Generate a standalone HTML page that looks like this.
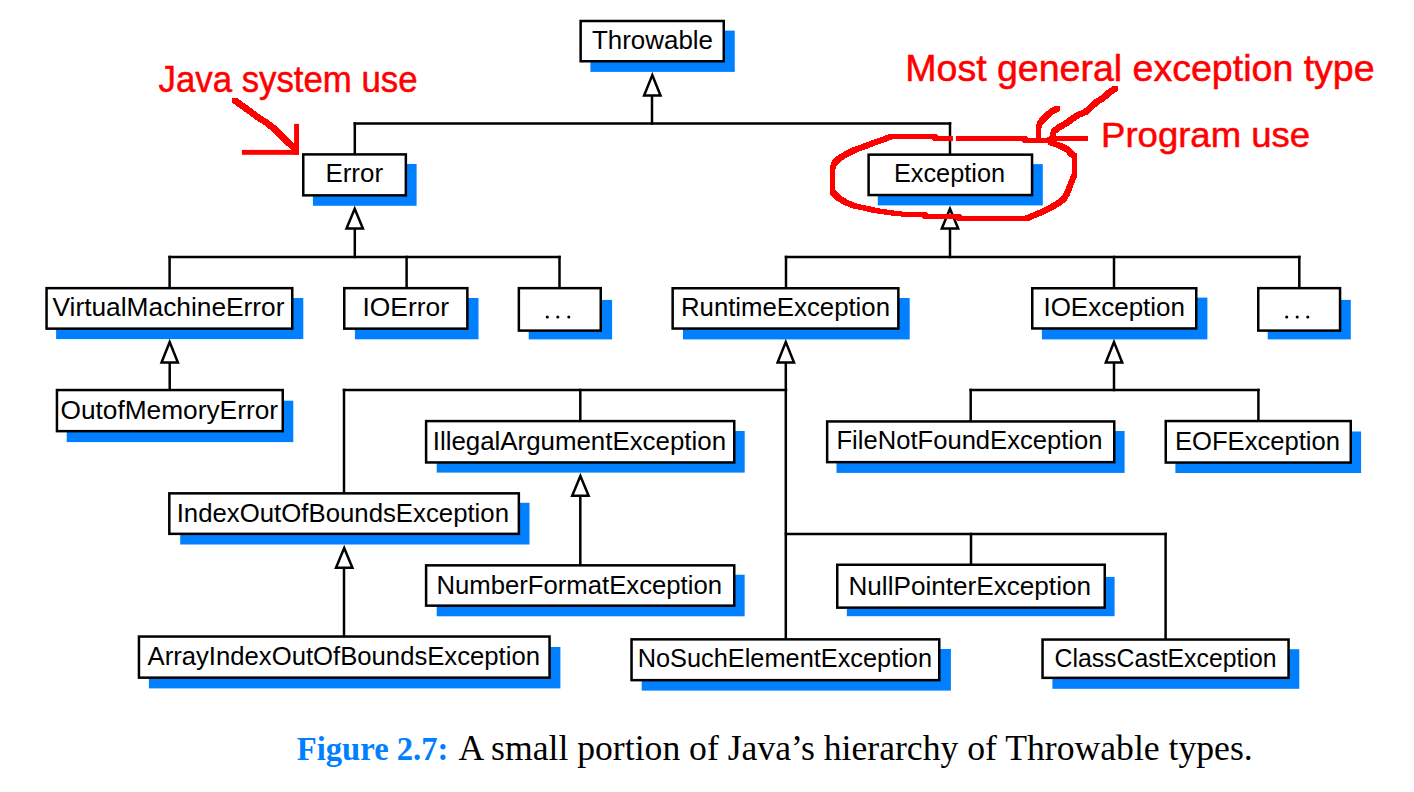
<!DOCTYPE html><html><head><meta charset="utf-8"><style>html,body{margin:0;padding:0;background:#fff;width:1414px;height:792px;overflow:hidden}svg{display:block}</style></head><body>
<svg width="1414" height="792" viewBox="0 0 1414 792">
<rect x="590.40" y="30.60" width="144.35" height="41.30" fill="#0080ff"/>
<rect x="312.90" y="164.00" width="103.70" height="41.80" fill="#0080ff"/>
<rect x="877.80" y="164.10" width="165.00" height="41.30" fill="#0080ff"/>
<rect x="56.10" y="298.00" width="247.20" height="41.10" fill="#0080ff"/>
<rect x="354.90" y="298.00" width="123.60" height="41.30" fill="#0080ff"/>
<rect x="528.70" y="299.90" width="83.40" height="39.50" fill="#0080ff"/>
<rect x="683.00" y="298.00" width="226.70" height="41.40" fill="#0080ff"/>
<rect x="1041.90" y="297.60" width="165.50" height="41.80" fill="#0080ff"/>
<rect x="1267.70" y="299.90" width="83.10" height="39.50" fill="#0080ff"/>
<rect x="66.70" y="400.70" width="226.60" height="41.40" fill="#0080ff"/>
<rect x="436.70" y="431.00" width="308.00" height="41.60" fill="#0080ff"/>
<rect x="836.50" y="431.00" width="288.10" height="41.90" fill="#0080ff"/>
<rect x="1175.40" y="431.50" width="185.70" height="41.50" fill="#0080ff"/>
<rect x="180.20" y="502.80" width="349.30" height="41.70" fill="#0080ff"/>
<rect x="436.70" y="574.75" width="307.95" height="41.55" fill="#0080ff"/>
<rect x="846.85" y="576.90" width="267.75" height="39.30" fill="#0080ff"/>
<rect x="148.90" y="647.00" width="411.50" height="41.40" fill="#0080ff"/>
<rect x="641.70" y="649.00" width="309.20" height="41.60" fill="#0080ff"/>
<rect x="1052.40" y="649.20" width="246.90" height="39.60" fill="#0080ff"/>
<g stroke="#000" stroke-width="2.5" fill="none" stroke-linecap="square">
<line x1="652" y1="96" x2="652" y2="123.5"/>
<line x1="354.8" y1="123.5" x2="950" y2="123.5"/>
<line x1="354.8" y1="123.5" x2="354.8" y2="153.2"/>
<line x1="950" y1="123.5" x2="950" y2="154"/>
<line x1="354.8" y1="229" x2="354.8" y2="257"/>
<line x1="950" y1="229" x2="950" y2="257"/>
<line x1="169.6" y1="257" x2="559.5" y2="257"/>
<line x1="169.6" y1="257" x2="169.6" y2="287"/>
<line x1="406.6" y1="257" x2="406.6" y2="287"/>
<line x1="559.5" y1="257" x2="559.5" y2="287"/>
<line x1="786" y1="257" x2="1299.3" y2="257"/>
<line x1="786" y1="257" x2="786" y2="287"/>
<line x1="1114" y1="257" x2="1114" y2="287"/>
<line x1="1299.3" y1="257" x2="1299.3" y2="287"/>
<line x1="169.7" y1="362.5" x2="169.7" y2="389"/>
<line x1="785.8" y1="362.5" x2="785.8" y2="638.5"/>
<line x1="1114" y1="362.5" x2="1114" y2="390"/>
<line x1="344" y1="390" x2="786" y2="390"/>
<line x1="344" y1="390" x2="344" y2="492.5"/>
<line x1="580.3" y1="390" x2="580.3" y2="420"/>
<line x1="970.7" y1="390" x2="1258.4" y2="390"/>
<line x1="970.7" y1="390" x2="970.7" y2="420"/>
<line x1="1258.4" y1="390" x2="1258.4" y2="420"/>
<line x1="786" y1="534" x2="1165.6" y2="534"/>
<line x1="971" y1="534" x2="971" y2="564"/>
<line x1="1165.6" y1="534" x2="1165.6" y2="638.5"/>
<line x1="580.3" y1="496" x2="580.3" y2="564"/>
<line x1="344" y1="567.5" x2="344" y2="635.5"/>
</g>
<g stroke="#000" stroke-width="2.5" fill="#fff">
<rect x="580.65" y="21.00" width="143.10" height="40.25"/>
<rect x="303.25" y="154.40" width="102.60" height="40.95"/>
<rect x="868.60" y="154.65" width="163.45" height="40.40"/>
<rect x="46.55" y="288.15" width="245.70" height="40.50"/>
<rect x="344.25" y="288.15" width="123.10" height="40.50"/>
<rect x="518.85" y="288.15" width="81.90" height="42.45"/>
<rect x="672.65" y="288.25" width="225.70" height="40.30"/>
<rect x="1032.25" y="288.25" width="164.00" height="40.20"/>
<rect x="1258.25" y="288.15" width="81.80" height="42.45"/>
<rect x="56.95" y="390.05" width="225.80" height="41.10"/>
<rect x="426.10" y="421.10" width="308.15" height="41.35"/>
<rect x="827.15" y="421.45" width="287.10" height="40.70"/>
<rect x="1165.75" y="421.05" width="185.00" height="41.50"/>
<rect x="169.31" y="493.35" width="349.54" height="40.50"/>
<rect x="426.10" y="565.35" width="308.15" height="40.30"/>
<rect x="837.25" y="564.75" width="267.50" height="42.90"/>
<rect x="138.95" y="636.55" width="410.60" height="41.10"/>
<rect x="631.55" y="639.35" width="307.70" height="40.80"/>
<rect x="1042.55" y="639.55" width="246.00" height="38.30"/>
</g>
<g stroke="#000" stroke-width="2.5" fill="#fff" stroke-linejoin="miter">
<polygon points="652.3,75.1 644.10,95.55 660.50,95.55"/>
<polygon points="354.7,208.8 346.50,228.4 362.90,228.4"/>
<polygon points="950,208.8 941.80,228.4 958.20,228.4"/>
<polygon points="169.7,342 161.50,362.45 177.90,362.45"/>
<polygon points="785.8,342 777.60,362.45 794.00,362.45"/>
<polygon points="1114,342 1105.80,362.45 1122.20,362.45"/>
<polygon points="580.4,475.9 572.20,495.65 588.60,495.65"/>
<polygon points="344.2,547.9 336.00,567.65 352.40,567.65"/>
</g>
<g font-family="Liberation Sans, sans-serif" font-size="26.6" fill="#000">
<text x="591.98" y="48.75" textLength="121.03" lengthAdjust="spacingAndGlyphs">Throwable</text>
<text x="325.43" y="182.4" textLength="57.60" lengthAdjust="spacingAndGlyphs">Error</text>
<text x="893.93" y="182.4" textLength="111.13" lengthAdjust="spacingAndGlyphs">Exception</text>
<text x="52.50" y="316" textLength="232.01" lengthAdjust="spacingAndGlyphs">VirtualMachineError</text>
<text x="362.41" y="316" textLength="86.61" lengthAdjust="spacingAndGlyphs">IOError</text>
<text x="680.96" y="315.8" textLength="209.06" lengthAdjust="spacingAndGlyphs">RuntimeException</text>
<text x="1043.42" y="316" textLength="141.64" lengthAdjust="spacingAndGlyphs">IOException</text>
<text x="60.49" y="418.6" textLength="217.52" lengthAdjust="spacingAndGlyphs">OutofMemoryError</text>
<text x="432.72" y="449.8" textLength="293.30" lengthAdjust="spacingAndGlyphs">IllegalArgumentException</text>
<text x="836.48" y="449.3" textLength="266.04" lengthAdjust="spacingAndGlyphs">FileNotFoundException</text>
<text x="1174.95" y="449.8" textLength="165.09" lengthAdjust="spacingAndGlyphs">EOFException</text>
<text x="176.71" y="521.65" textLength="332.30" lengthAdjust="spacingAndGlyphs">IndexOutOfBoundsException</text>
<text x="436.47" y="594" textLength="285.56" lengthAdjust="spacingAndGlyphs">NumberFormatException</text>
<text x="848.46" y="595.2" textLength="242.56" lengthAdjust="spacingAndGlyphs">NullPointerException</text>
<text x="147.50" y="664.6" textLength="392.51" lengthAdjust="spacingAndGlyphs">ArrayIndexOutOfBoundsException</text>
<text x="637.72" y="666.6" textLength="294.30" lengthAdjust="spacingAndGlyphs">NoSuchElementException</text>
<text x="1054.48" y="667" textLength="222.03" lengthAdjust="spacingAndGlyphs">ClassCastException</text>
</g>
<circle cx="547.3" cy="317" r="1.55" fill="#000"/>
<circle cx="557.8" cy="317" r="1.55" fill="#000"/>
<circle cx="568.8" cy="317" r="1.55" fill="#000"/>
<circle cx="1286.7" cy="317" r="1.55" fill="#000"/>
<circle cx="1297.2" cy="317" r="1.55" fill="#000"/>
<circle cx="1307.8" cy="317" r="1.55" fill="#000"/>
<path fill="#ff0000" shape-rendering="crispEdges" d="M232.20,98.00 L237.00,98.00 L245.00,103.70 L245.00,108.50 L240.20,108.50 L232.20,102.80ZM240.20,103.70 L245.00,103.70 L253.00,109.40 L253.00,114.20 L248.20,114.20 L240.20,108.50ZM248.20,109.40 L253.00,109.40 L260.30,115.00 L260.30,119.80 L255.50,119.80 L248.20,114.20ZM255.50,115.00 L260.30,115.00 L268.40,119.90 L268.40,124.70 L263.60,124.70 L255.50,119.80ZM263.60,119.90 L268.40,119.90 L275.70,125.60 L275.70,130.40 L270.90,130.40 L263.60,124.70ZM270.90,125.60 L275.70,125.60 L282.10,132.00 L282.10,136.80 L277.30,136.80 L270.90,130.40ZM277.30,132.00 L282.10,132.00 L288.60,138.50 L288.60,143.30 L283.80,143.30 L277.30,136.80ZM283.80,138.50 L288.60,138.50 L294.30,143.30 L294.30,148.10 L289.50,148.10 L283.80,143.30ZM289.50,143.30 L294.30,143.30 L297.90,147.10 L297.90,151.90 L293.10,151.90 L289.50,148.10ZM1049.60,136.10 L1088.00,136.10 L1088.00,140.90 L1049.60,140.90ZM1046.60,137.85 L1049.60,136.10 L1054.40,136.10 L1054.40,140.90 L1051.40,142.65 L1046.60,142.65ZM1023.60,137.85 L1051.40,137.85 L1051.40,142.65 L1023.60,142.65ZM1021.60,136.10 L1026.40,136.10 L1028.40,137.85 L1028.40,142.65 L1023.60,142.65 L1021.60,140.90ZM943.90,136.00 L948.70,136.00 L1026.40,136.10 L1026.40,140.90 L1021.60,140.90 L943.90,140.80ZM933.10,135.80 L937.90,135.80 L948.70,136.00 L948.70,140.80 L943.90,140.80 L933.10,140.60ZM931.20,134.00 L936.00,134.00 L937.90,135.80 L937.90,140.60 L933.10,140.60 L931.20,138.80ZM889.10,134.00 L936.00,134.00 L936.00,138.80 L889.10,138.80ZM880.60,137.30 L889.10,134.00 L893.90,134.00 L893.90,138.80 L885.40,142.10 L880.60,142.10ZM872.10,140.10 L880.60,137.30 L885.40,137.30 L885.40,142.10 L876.90,144.90 L872.10,144.90ZM862.20,144.00 L872.10,140.10 L876.90,140.10 L876.90,144.90 L867.00,148.80 L862.20,148.80ZM852.30,147.50 L862.20,144.00 L867.00,144.00 L867.00,148.80 L857.10,152.30 L852.30,152.30ZM843.80,151.80 L852.30,147.50 L857.10,147.50 L857.10,152.30 L848.60,156.60 L843.80,156.60ZM836.70,156.00 L843.80,151.80 L848.60,151.80 L848.60,156.60 L841.50,160.80 L836.70,160.80ZM831.80,161.00 L836.70,156.00 L841.50,156.00 L841.50,160.80 L836.60,165.80 L831.80,165.80ZM830.00,165.90 L831.80,161.00 L836.60,161.00 L836.60,165.80 L834.80,170.70 L830.00,170.70ZM830.00,165.90 L834.80,165.90 L834.80,194.40 L830.00,194.40ZM830.00,189.60 L834.80,189.60 L837.30,191.70 L837.30,196.50 L832.50,196.50 L830.00,194.40ZM832.50,191.70 L837.30,191.70 L841.50,196.00 L841.50,200.80 L836.70,200.80 L832.50,196.50ZM836.70,196.00 L841.50,196.00 L848.60,200.20 L848.60,205.00 L843.80,205.00 L836.70,200.80ZM843.80,200.20 L848.60,200.20 L857.80,203.80 L857.80,208.60 L853.00,208.60 L843.80,205.00ZM853.00,203.80 L857.80,203.80 L868.40,205.90 L868.40,210.70 L863.60,210.70 L853.00,208.60ZM863.60,205.90 L868.40,205.90 L876.90,208.00 L876.90,212.80 L872.10,212.80 L863.60,210.70ZM872.10,208.00 L876.90,208.00 L891.00,210.10 L891.00,214.90 L886.20,214.90 L872.10,212.80ZM886.20,210.10 L891.00,210.10 L901.70,211.50 L901.70,216.30 L896.90,216.30 L886.20,214.90ZM896.90,211.50 L901.70,211.50 L912.30,212.10 L912.30,216.90 L907.50,216.90 L896.90,216.30ZM907.50,212.10 L912.30,212.10 L926.40,212.20 L926.40,217.00 L921.60,217.00 L907.50,216.90ZM921.60,212.20 L926.40,212.20 L928.40,213.90 L928.40,218.70 L923.60,218.70 L921.60,217.00ZM923.60,213.90 L960.40,213.90 L960.40,218.70 L923.60,218.70ZM955.60,213.90 L960.40,213.90 L962.40,215.90 L962.40,220.70 L957.60,220.70 L955.60,218.70ZM957.60,215.90 L1024.70,215.80 L1029.50,215.80 L1029.50,220.60 L962.40,220.70 L957.60,220.70ZM1024.70,215.80 L1030.40,213.40 L1035.20,213.40 L1035.20,218.20 L1029.50,220.60 L1024.70,220.60ZM1030.40,213.40 L1040.30,209.30 L1045.10,209.30 L1045.10,214.10 L1035.20,218.20 L1030.40,218.20ZM1040.30,209.30 L1048.50,205.20 L1053.30,205.20 L1053.30,210.00 L1045.10,214.10 L1040.30,214.10ZM1048.50,205.20 L1056.70,200.30 L1061.50,200.30 L1061.50,205.10 L1053.30,210.00 L1048.50,210.00ZM1056.70,200.30 L1061.60,196.20 L1066.40,196.20 L1066.40,201.00 L1061.50,205.10 L1056.70,205.10ZM1061.60,196.20 L1064.90,190.40 L1069.70,190.40 L1069.70,195.20 L1066.40,201.00 L1061.60,201.00ZM1064.90,190.40 L1068.15,182.20 L1072.95,182.20 L1072.95,187.00 L1069.70,195.20 L1064.90,195.20ZM1068.15,182.20 L1070.60,175.60 L1075.40,175.60 L1075.40,180.40 L1072.95,187.00 L1068.15,187.00ZM1070.60,175.60 L1072.10,172.60 L1076.90,172.60 L1076.90,177.40 L1075.40,180.40 L1070.60,180.40ZM1072.10,153.60 L1076.90,153.60 L1076.90,177.40 L1072.10,177.40ZM1068.80,151.40 L1073.60,151.40 L1076.90,153.60 L1076.90,158.40 L1072.10,158.40 L1068.80,156.20ZM1065.20,147.10 L1070.00,147.10 L1073.60,151.40 L1073.60,156.20 L1068.80,156.20 L1065.20,151.90ZM1059.40,144.20 L1064.20,144.20 L1070.00,147.10 L1070.00,151.90 L1065.20,151.90 L1059.40,149.00ZM1054.40,142.00 L1059.20,142.00 L1064.20,144.20 L1064.20,149.00 L1059.40,149.00 L1054.40,146.80ZM1047.90,140.10 L1052.70,140.10 L1059.20,142.00 L1059.20,146.80 L1054.40,146.80 L1047.90,144.90ZM1048.80,109.40 L1055.30,106.00 L1060.10,106.00 L1060.10,110.80 L1053.60,114.20 L1048.80,114.20ZM1042.80,114.70 L1048.80,109.40 L1053.60,109.40 L1053.60,114.20 L1047.60,119.50 L1042.80,119.50ZM1037.40,120.80 L1042.80,114.70 L1047.60,114.70 L1047.60,119.50 L1042.20,125.60 L1037.40,125.60ZM1036.10,126.10 L1037.40,120.80 L1042.20,120.80 L1042.20,125.60 L1040.90,130.90 L1036.10,130.90ZM1036.10,126.10 L1040.90,126.10 L1040.90,139.40 L1036.10,139.40ZM1106.40,90.50 L1113.20,85.90 L1118.00,85.90 L1118.00,90.70 L1111.20,95.30 L1106.40,95.30ZM1100.30,95.80 L1106.40,90.50 L1111.20,90.50 L1111.20,95.30 L1105.10,100.60 L1100.30,100.60ZM1094.30,99.60 L1100.30,95.80 L1105.10,95.80 L1105.10,100.60 L1099.10,104.40 L1094.30,104.40ZM1089.00,104.10 L1094.30,99.60 L1099.10,99.60 L1099.10,104.40 L1093.80,108.90 L1089.00,108.90ZM1083.60,109.40 L1089.00,104.10 L1093.80,104.10 L1093.80,108.90 L1088.40,114.20 L1083.60,114.20ZM1076.10,112.40 L1083.60,109.40 L1088.40,109.40 L1088.40,114.20 L1080.90,117.20 L1076.10,117.20ZM1070.00,116.20 L1076.10,112.40 L1080.90,112.40 L1080.90,117.20 L1074.80,121.00 L1070.00,121.00ZM1064.00,120.80 L1070.00,116.20 L1074.80,116.20 L1074.80,121.00 L1068.80,125.60 L1064.00,125.60ZM1057.10,124.60 L1064.00,120.80 L1068.80,120.80 L1068.80,125.60 L1061.90,129.40 L1057.10,129.40ZM1051.10,129.10 L1057.10,124.60 L1061.90,124.60 L1061.90,129.40 L1055.90,133.90 L1051.10,133.90ZM1049.90,134.60 L1051.10,129.10 L1055.90,129.10 L1055.90,133.90 L1054.70,139.40 L1049.90,139.40Z"/>
<rect x="294.1" y="123.9" width="4.9" height="30.9" fill="#ff0000"/>
<rect x="241.9" y="149.9" width="57.1" height="4.9" fill="#ff0000"/>
<rect x="952.95" y="134" width="2.95" height="7.5" fill="#fff"/>
<text x="158.49" y="92.1" textLength="259.12" lengthAdjust="spacingAndGlyphs" font-family="Liberation Sans, sans-serif" font-size="36.3" fill="#ff0000" stroke="#ff0000" stroke-width="0.5">Java system use</text>
<text x="905.26" y="81.0" textLength="469.36" lengthAdjust="spacingAndGlyphs" font-family="Liberation Sans, sans-serif" font-size="36.3" fill="#ff0000" stroke="#ff0000" stroke-width="0.5">Most general exception type</text>
<text x="1101.12" y="147.0" textLength="208.92" lengthAdjust="spacingAndGlyphs" font-family="Liberation Sans, sans-serif" font-size="35.5" fill="#ff0000" stroke="#ff0000" stroke-width="0.5">Program use</text>
<text x="296.78" y="759.6" textLength="151.68" lengthAdjust="spacingAndGlyphs" font-family="Liberation Serif, serif" font-weight="bold" font-size="33.8" fill="#0080ff">Figure 2.7:</text>
<text x="458.40" y="759.6" textLength="794.31" lengthAdjust="spacingAndGlyphs" font-family="Liberation Serif, serif" font-size="36.8" fill="#000">A small portion of Java’s hierarchy of Throwable types.</text>
</svg>
</body></html>
